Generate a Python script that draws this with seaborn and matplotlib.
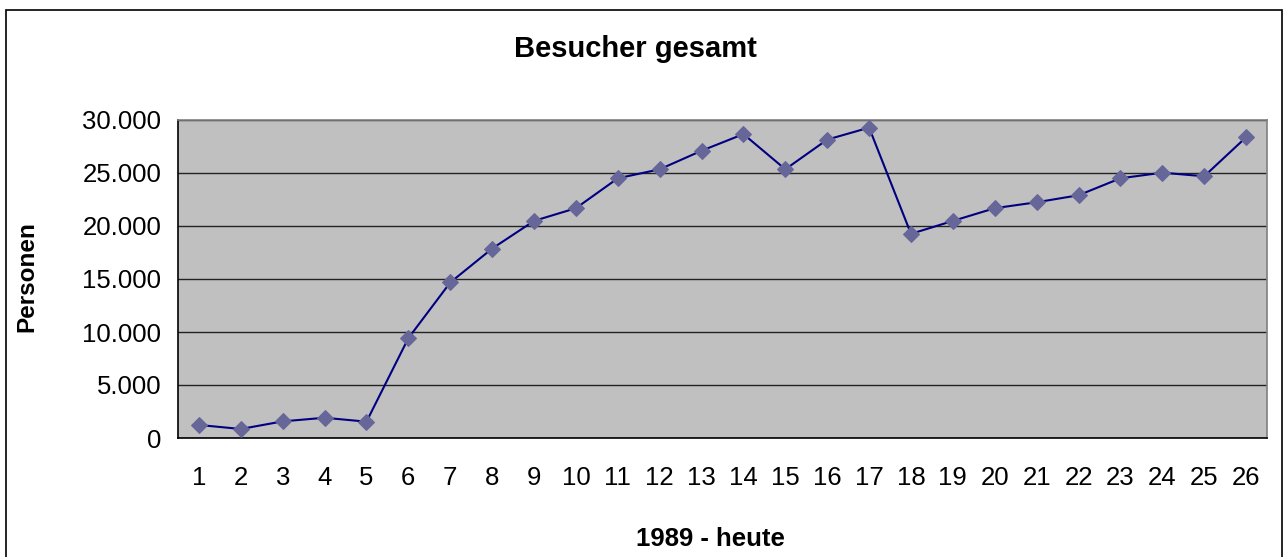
import numpy as np
import pandas as pd
import matplotlib
matplotlib.use("Agg")
import matplotlib.pyplot as plt
import seaborn as sns
from matplotlib.ticker import FuncFormatter, FixedLocator
from matplotlib.patches import Rectangle

# ─── Data ─────────────────────────────────────────────────────────────────────
jahre    = list(range(1, 27))
besucher = [1230, 850, 1570, 1910, 1540, 9420, 14670, 17870, 20480, 21680,
            24500, 25350, 27100, 28670, 25350, 28150, 29280, 19260, 20480, 21680,
            22240, 22900, 24500, 25030, 24690, 28370]

df = pd.DataFrame({"pos": np.arange(len(jahre)), "besucher": besucher})

# ─── Plot ─────────────────────────────────────────────────────────────────────
sns.set_theme(style="white")
plt.rcParams["font.family"] = ["Liberation Sans", "DejaVu Sans"]
plt.rcParams["text.color"] = "black"
plt.rcParams["xtick.color"] = "black"
plt.rcParams["ytick.color"] = "black"

fig = plt.figure(figsize=(12.84, 5.57), dpi=100)
ax = fig.add_axes([178 / 1284, 1 - 438 / 557, (1267 - 178) / 1284, (438 - 120) / 557])

# outer chart frame (bottom edge lies below the visible image)
fig.patches.append(Rectangle((6 / 1284, -0.05), 1276 / 1284, 1.05 - 10 / 557,
                             transform=fig.transFigure, fill=False,
                             edgecolor="black", linewidth=1.2))

ax.set_facecolor("#C0C0C0")
sns.lineplot(data=df, x="pos", y="besucher", ax=ax, color="#000080", linewidth=1.5,
             marker="D", markersize=8, markerfacecolor="#666699",
             markeredgecolor="#666699", zorder=3)

ax.set_xlim(-0.5, len(jahre) - 0.5)
ax.set_ylim(0, 30000)
ax.set_yticks(np.arange(0, 30001, 5000))
ax.yaxis.set_major_formatter(FuncFormatter(lambda v, _: f"{int(v):,}".replace(",", ".")))
ax.yaxis.grid(True, color="#222222", linewidth=1.0)
ax.set_axisbelow(True)

ax.set_xticks(np.arange(len(jahre)))
ax.set_xticklabels([str(j) for j in jahre])
ax.xaxis.set_minor_locator(FixedLocator(np.arange(-0.5, len(jahre), 1.0)))
ax.tick_params(axis="x", which="major", length=0, pad=20, labelsize=18.5)
ax.tick_params(axis="x", which="minor", length=5.5, width=1, color="black", direction="out")
ax.tick_params(axis="y", which="major", length=7, width=1, color="black",
               direction="out", labelsize=18.5, pad=5)

for side in ["left", "bottom"]:
    ax.spines[side].set_color("black")
    ax.spines[side].set_linewidth(1.2)
for side in ["top", "right"]:
    ax.spines[side].set_color("#808080")
    ax.spines[side].set_linewidth(1.2)

ax.set_xlabel("")
ax.set_ylabel("")
fig.text(635 / 1284, 1 - 49 / 557, "Besucher gesamt", ha="center", va="center",
         fontsize=21, fontweight="bold")
fig.text(27 / 1284, 1 - 277 / 557, "Personen", ha="center", va="center",
         rotation=90, fontsize=17.5, fontweight="bold")
fig.text(710 / 1284, 1 - 539 / 557, "1989 - heute", ha="center", va="center",
         fontsize=18.5, fontweight="bold")

fig.savefig("out.png", dpi=100, facecolor="white")
